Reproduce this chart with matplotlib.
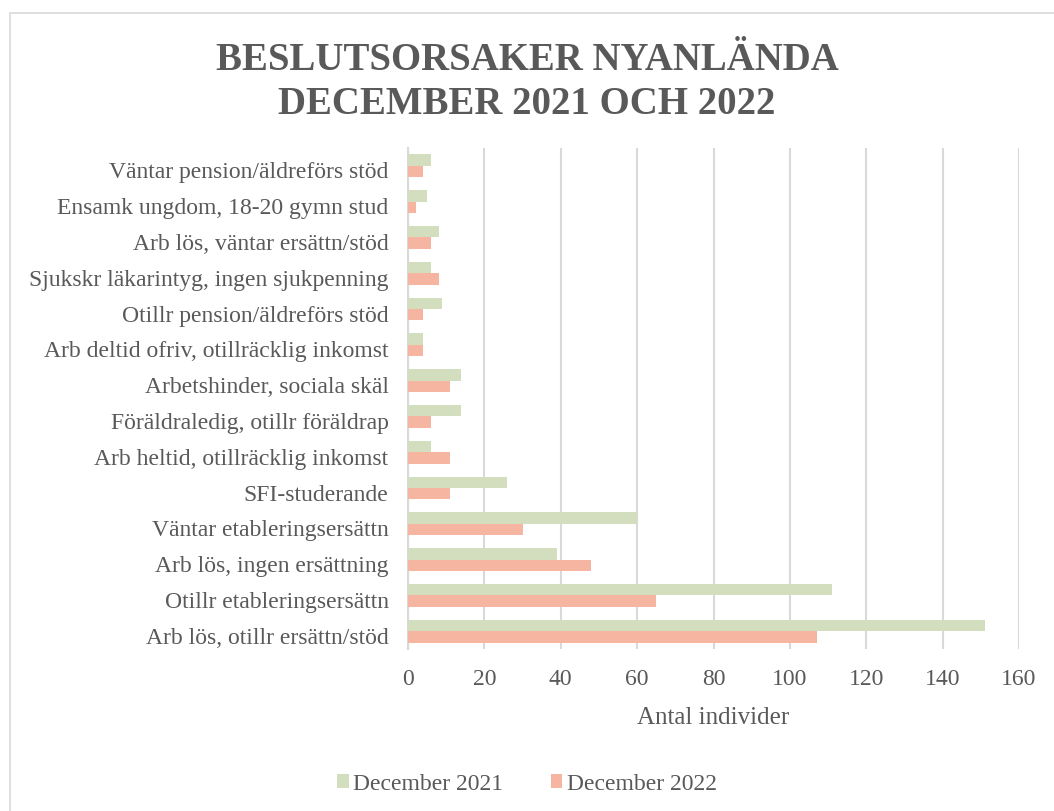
import numpy as np
import matplotlib.pyplot as plt
from matplotlib.patches import Rectangle

# data (top to bottom as in the chart)
categories = [
    "Väntar pension/äldreförs stöd",
    "Ensamk ungdom, 18-20 gymn stud",
    "Arb lös, väntar ersättn/stöd",
    "Sjukskr läkarintyg, ingen sjukpenning",
    "Otillr pension/äldreförs stöd",
    "Arb deltid ofriv, otillräcklig inkomst",
    "Arbetshinder, sociala skäl",
    "Föräldraledig, otillr föräldrap",
    "Arb heltid, otillräcklig inkomst",
    "SFI-studerande",
    "Väntar etableringsersättn",
    "Arb lös, ingen ersättning",
    "Otillr etableringsersättn",
    "Arb lös, otillr ersättn/stöd",
]
dec_2021 = [6, 5, 8, 6, 9, 4, 14, 14, 6, 26, 60, 39, 111, 151]
dec_2022 = [4, 2, 6, 8, 4, 4, 11, 6, 11, 11, 30, 48, 65, 107]
xticks = [0, 20, 40, 60, 80, 100, 120, 140, 160]

green = "#D3DEBE"
salmon = "#F5B5A0"
txt = "#595959"
grid = "#D9D9D9"

plt.rcParams['font.family'] = ['Liberation Serif', 'DejaVu Serif']

fig = plt.figure(figsize=(10.54, 8.12), dpi=100)
ax = fig.add_axes([408 / 1054, 1 - 650 / 812, (1019 - 408) / 1054, 501 / 812])

# chart border
fig.patches.append(Rectangle((10 / 1054, -0.01), 1.1, 1 - 14 / 812 + 0.01,
                             transform=fig.transFigure, fill=False,
                             edgecolor="#D9D9D9", linewidth=1.2))

y = np.arange(len(categories))
h = 0.32
ax.barh(y - h / 2, dec_2021, height=h, color=green, label="December 2021", zorder=3)
ax.barh(y + h / 2, dec_2022, height=h, color=salmon, label="December 2022", zorder=3)

ax.set_ylim(len(categories) - 0.5, -0.5)
ax.set_xlim(0, 160)
ax.set_yticks(y + 0.1)
ax.set_yticklabels(categories, fontsize=17, color=txt)
ax.set_xticks(xticks)
ax.set_xticklabels([str(v) for v in xticks], fontsize=17, color=txt)
ax.tick_params(axis='both', length=0)
ax.tick_params(axis='y', pad=14)
ax.tick_params(axis='x', pad=14)
ax.xaxis.grid(True, color=grid, linewidth=1.5, zorder=0)
for s in ['top', 'right', 'bottom']:
    ax.spines[s].set_visible(False)
ax.spines['left'].set_color(grid)
ax.spines['left'].set_linewidth(1.5)

ax.set_xlabel("Antal individer", fontsize=18, color=txt, labelpad=12)

fig.text(0.5, 1 - 60 / 812, "BESLUTSORSAKER NYANLÄNDA", ha='center', va='center',
         fontsize=28, fontweight='bold', color=txt)
fig.text(0.5, 1 - 104 / 812, "DECEMBER 2021 OCH 2022", ha='center', va='center',
         fontsize=28, fontweight='bold', color=txt)

fig.legend(loc='center', bbox_to_anchor=(0.5, 1 - 785 / 812), ncol=2, frameon=False,
           fontsize=17, labelcolor=txt, handlelength=0.5, handleheight=0.5,
           handletextpad=0.2, columnspacing=2.0)

fig.savefig("out.png", dpi=100)
